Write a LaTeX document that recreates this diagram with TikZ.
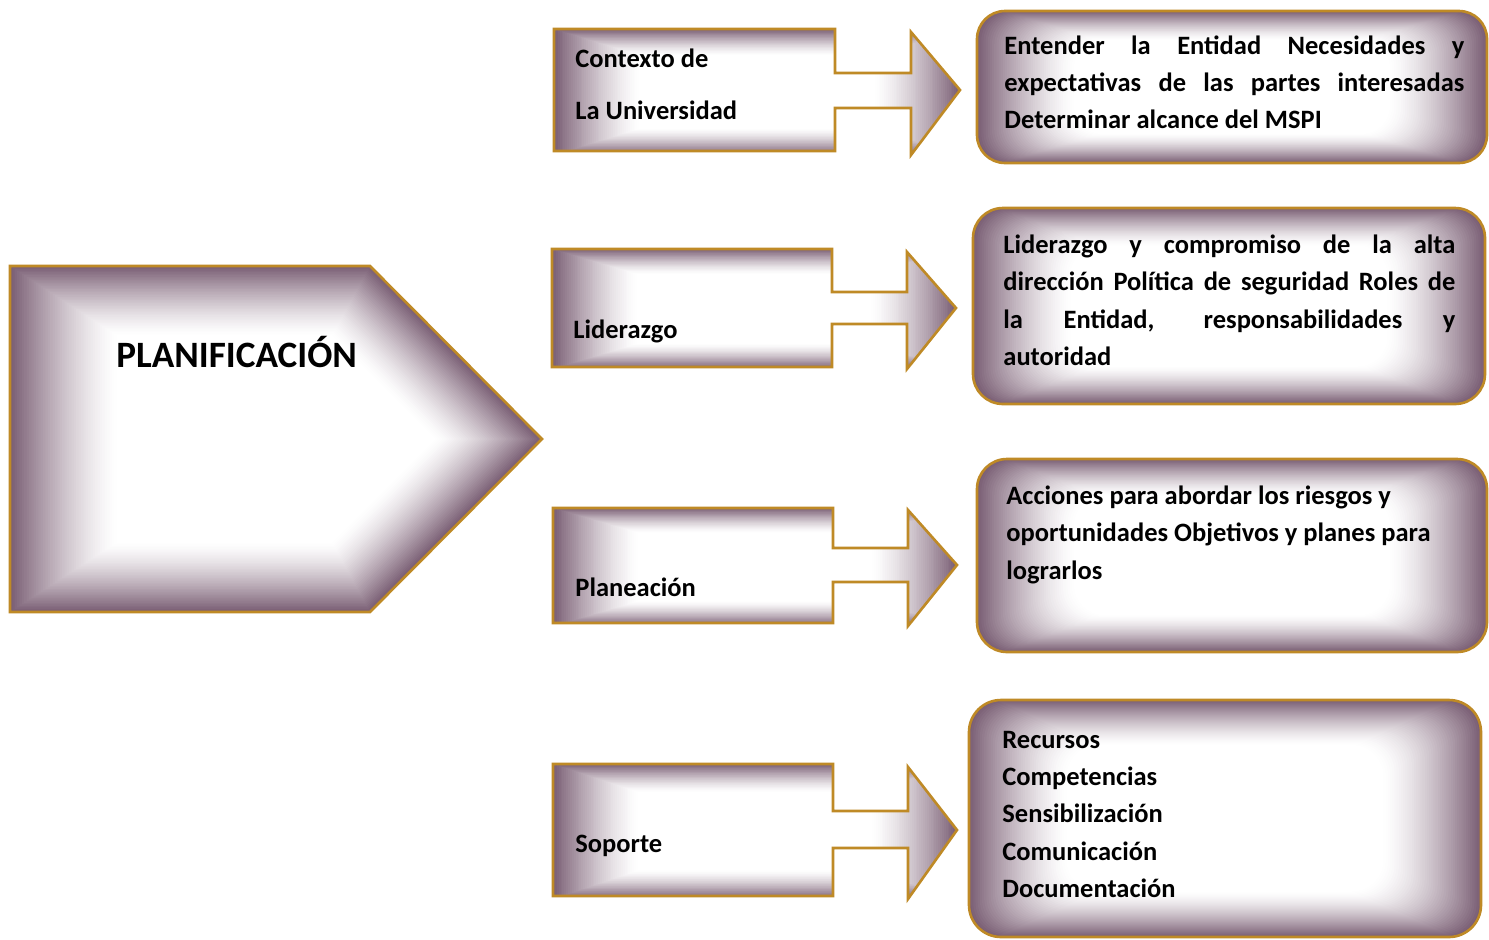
\documentclass[tikz,border=0pt]{standalone}
\usepackage{fontspec}
\setmainfont{Carlito}
\definecolor{pcol}{RGB}{122,94,116}
\definecolor{gold}{RGB}{191,138,38}
\tikzset{
  outl/.style={draw=gold, line width=1.3pt, line join=miter},
  lbl/.style={font=\bfseries\fontsize{13.25pt}{15pt}\selectfont, anchor=base west, inner sep=0pt, text=black},
  big/.style={font=\bfseries\fontsize{18.6pt}{20pt}\selectfont, anchor=base west, inner sep=0pt, text=black},
}
\newcommand\gradfill[4]{%
  \foreach \i in {0,...,45}{%
    \pgfmathsetmacro\s{1-(1-#3)*\i/45}%
    \pgfmathsetmacro\pc{100*(1-\i/45)^1.4}%
    \fill[pcol!\pc!white, scale around={\s:#2}, #4] #1;
  }}
\begin{document}
\begin{tikzpicture}[x=0.5pt,y=-0.5pt]
\useasboundingbox (0,0) rectangle (1489,939);
\fill[white] (0,0) rectangle (1489,939);

% ---- big pentagon
\gradfill{(10,266) -- (370,266) -- (542,439) -- (370,612) -- (10,612) -- cycle}{(276,439)}{0.6}{}
\draw[outl] (10,266) -- (370,266) -- (542,439) -- (370,612) -- (10,612) -- cycle;
\node[big] (plan) at (116,367) {PLANIFICACIÓN};

% ---- callout 1
\begin{scope}
\clip (554,29) -- (835,29) -- (835,73) -- (911,73) -- (911,32) -- (960,90) -- (911,155) -- (911,108) -- (835,108) -- (835,151) -- (554,151) -- cycle;
\gradfill{(554,29) rectangle (960,155)}{(757,92)}{0.58}{}
\end{scope}
\draw[outl] (554,29) -- (835,29) -- (835,73) -- (911,73) -- (911,32) -- (960,90) -- (911,155) -- (911,108) -- (835,108) -- (835,151) -- (554,151) -- cycle;
\node[lbl] (c1a) at (575,67) {Contexto de};
\node[lbl] (c1b) at (575,119) {La Universidad};

% ---- callout 2
\begin{scope}
\clip (552,249) -- (832,249) -- (832,292) -- (907,292) -- (907,252) -- (956,308) -- (907,369) -- (907,324) -- (832,324) -- (832,367) -- (552,367) -- cycle;
\gradfill{(552,249) rectangle (956,369)}{(754,309)}{0.58}{}
\end{scope}
\draw[outl] (552,249) -- (832,249) -- (832,292) -- (907,292) -- (907,252) -- (956,308) -- (907,369) -- (907,324) -- (832,324) -- (832,367) -- (552,367) -- cycle;
\node[lbl] (c2) at (573,338) {Liderazgo};

% ---- callout 3
\begin{scope}
\clip (553,508) -- (833,508) -- (833,548) -- (908,548) -- (908,510) -- (957,565) -- (908,626) -- (908,582) -- (833,582) -- (833,623) -- (553,623) -- cycle;
\gradfill{(553,508) rectangle (957,626)}{(755,567)}{0.58}{}
\end{scope}
\draw[outl] (553,508) -- (833,508) -- (833,548) -- (908,548) -- (908,510) -- (957,565) -- (908,626) -- (908,582) -- (833,582) -- (833,623) -- (553,623) -- cycle;
\node[lbl] (c3) at (575,596) {Planeación};

% ---- callout 4
\begin{scope}
\clip (553,764) -- (833,764) -- (833,811) -- (908,811) -- (908,767) -- (957,830) -- (908,899) -- (908,848) -- (833,848) -- (833,896) -- (553,896) -- cycle;
\gradfill{(553,764) rectangle (957,899)}{(755,831)}{0.58}{}
\end{scope}
\draw[outl] (553,764) -- (833,764) -- (833,811) -- (908,811) -- (908,767) -- (957,830) -- (908,899) -- (908,848) -- (833,848) -- (833,896) -- (553,896) -- cycle;
\node[lbl] (c4) at (575,852) {Soporte};

% ---- rounded boxes
\gradfill{(977,11) rectangle (1487,163)}{(1232,87)}{0.62}{rounded corners=14pt}
\draw[outl, rounded corners=14pt] (977,11) rectangle (1487,163);
\node[lbl] (r1a) at (1004,54) {\makebox[230pt][s]{Entender la Entidad Necesidades y}};
\node[lbl] (r1b) at (1004,91) {\makebox[230pt][s]{expectativas de las partes interesadas}};
\node[lbl] (r1c) at (1004,128) {Determinar alcance del MSPI};

\gradfill{(973,208) rectangle (1485,404)}{(1229,306)}{0.62}{rounded corners=15pt}
\draw[outl, rounded corners=15pt] (973,208) rectangle (1485,404);
\node[lbl] (r2a) at (1003,253) {\makebox[226pt][s]{Liderazgo y compromiso de la alta}};
\node[lbl] (r2b) at (1003,290) {\makebox[226pt][s]{dirección Política de seguridad Roles de}};
\node[lbl] (r2c) at (1003,328) {\makebox[226pt][s]{la Entidad, responsabilidades y}};
\node[lbl] (r2d) at (1003,365) {autoridad};

\gradfill{(977,459) rectangle (1487,652)}{(1232,555)}{0.62}{rounded corners=15pt}
\draw[outl, rounded corners=15pt] (977,459) rectangle (1487,652);
\node[lbl] (r3a) at (1006,504) {Acciones para abordar los riesgos y};
\node[lbl] (r3b) at (1006,541) {oportunidades Objetivos y planes para};
\node[lbl] (r3c) at (1006,579) {lograrlos};

\gradfill{(969,700) rectangle (1481,937)}{(1225,818)}{0.62}{rounded corners=16pt}
\draw[outl, rounded corners=16pt] (969,700) rectangle (1481,937);
\node[lbl] (r4a) at (1002,748) {Recursos};
\node[lbl] (r4b) at (1002,785) {Competencias};
\node[lbl] (r4c) at (1002,822) {Sensibilización};
\node[lbl] (r4d) at (1002,860) {Comunicación};
\node[lbl] (r4e) at (1002,897) {Documentación};
\end{tikzpicture}
\end{document}
